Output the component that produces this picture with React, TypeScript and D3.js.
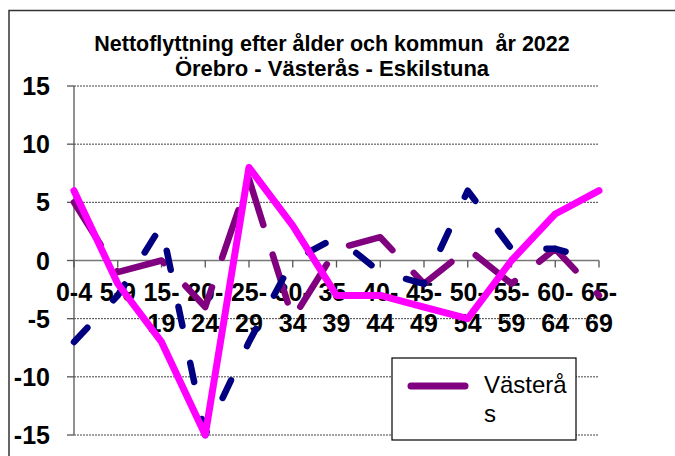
import React from "react";
import * as d3 from "d3";

const categories = ["0-4", "5-9", "15-19", "20-24", "25-29", "30-34", "35-39", "40-44", "45-49", "50-54", "55-59", "60-64", "65-69"];
const orebro = [-7, -3, 3, -15, -7, 0, 2, -1, -2, 6, 1, 1, 0];
const vasteras = [5, -1, 0, -4, 7, -5, 1, 2, -2, 1, -2, 1, -3];
const eskilstuna = [6, -2, -7, -15, 8, 3, -3, -3, -4, -5, 0, 4, 6];
const yTicks = [15, 10, 5, 0, -5, -10, -15];
const titleLines = ["Nettoflyttning efter ålder och kommun  år 2022", "Örebro - Västerås - Eskilstuna"];
const legendLabel = ["Västerå", "s"];

const FONT = "'Liberation Sans', Arial, Helvetica, sans-serif";

export default function App() {
  const x = d3.scalePoint<string>().domain(categories).range([74, 599]);
  const y = d3.scaleLinear().domain([-15, 15]).range([435, 86]);
  const line = d3
    .line<number>()
    .x((_, i) => x(categories[i]) as number)
    .y((d) => y(d));

  const splitLabel = (c: string, i: number) => (i < 2 ? [c] : [c.split("-")[0] + "-", c.split("-")[1]]);

  return (
    <svg width={675} height={456} style={{ position: "absolute", left: 0, top: 0, background: "#fff" }} fontFamily={FONT}>
      <rect x={0} y={0} width={675} height={456} fill="#fff" />
      <rect x={9} y={10.5} width={720} height={500} fill="#fff" stroke="#333" strokeWidth={1.5} />
      {titleLines.map((t, i) => (
        <text
          key={t}
          x={332}
          y={51 + i * 24.5}
          textAnchor="middle"
          fontWeight="bold"
          fontSize={i === 0 ? 21.5 : 22}
          style={{ whiteSpace: "pre" }}
          xmlSpace="preserve"
        >
          {t}
        </text>
      ))}
      {/* grid */}
      {yTicks.filter((v) => v !== 0).map((v) => (
        <line key={"g" + v} x1={74} x2={599} y1={y(v)} y2={y(v)} stroke="#444" strokeWidth={1} strokeDasharray="2 1" />
      ))}
      {/* y axis */}
      <line x1={74} x2={74} y1={y(15)} y2={y(-15)} stroke="#555" strokeWidth={1.3} />
      {yTicks.map((v) => (
        <g key={"yt" + v}>
          <line x1={67} x2={74} y1={y(v)} y2={y(v)} stroke="#555" strokeWidth={1.3} />
          <text x={50} y={y(v) + 9} textAnchor="end" fontWeight="bold" fontSize={25}>
            {v}
          </text>
        </g>
      ))}
      {/* x axis at 0 */}
      <line x1={74} x2={599} y1={y(0)} y2={y(0)} stroke="#777" strokeWidth={1.6} />
      {categories.map((c, i) => (
        <g key={"xt" + c}>
          <line x1={x(c)} x2={x(c)} y1={y(0)} y2={y(0) + 7} stroke="#555" strokeWidth={1.3} />
          {splitLabel(c, i).map((s, j) => (
            <text key={j} x={x(c)} y={301 + j * 31} textAnchor="middle" fontWeight="bold" fontSize={25}>
              {s}
            </text>
          ))}
        </g>
      ))}
      {/* series */}
      <path d={line(vasteras) || ""} fill="none" stroke="#800080" strokeWidth={6.5} strokeDasharray="50 31.2" strokeLinecap="round" strokeLinejoin="round" />
      <path d={line(orebro) || ""} fill="none" stroke="#000080" strokeWidth={6.5} strokeDasharray="19.5 37.8" strokeLinecap="round" strokeLinejoin="round" />
      <path d={line(eskilstuna) || ""} fill="none" stroke="#ff00ff" strokeWidth={7} strokeLinecap="round" strokeLinejoin="round" />
      {/* legend */}
      <rect x={392} y={358} width={184} height={82} fill="#fff" stroke="#000" strokeWidth={1.2} />
      <line x1={411} x2={465} y1={386} y2={386} stroke="#800080" strokeWidth={7} strokeLinecap="round" />
      {legendLabel.map((t, i) => (
        <text key={i} x={484} y={393 + i * 29} fontSize={24}>
          {t}
        </text>
      ))}
    </svg>
  );
}
